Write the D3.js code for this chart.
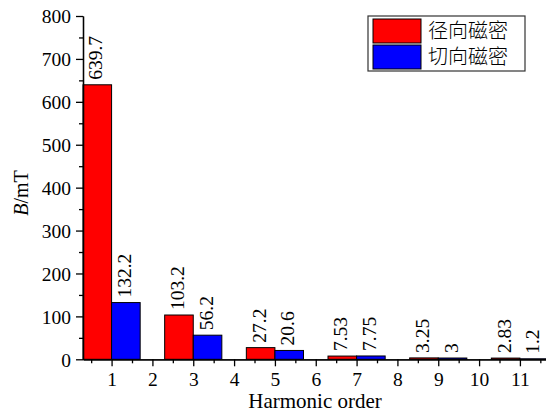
<!DOCTYPE html>
<html><head><meta charset="utf-8">
<script src="https://cdn.jsdelivr.net/npm/d3@7"></script>
<style>body{margin:0;background:#fff}svg{display:block}</style>
</head><body><svg id="c" width="546" height="414"></svg>
<script>
const orders = [1, 3, 5, 7, 9, 11];
const radial = [639.7, 103.2, 27.2, 7.53, 3.25, 2.83];
const radialLabels = ["639.7", "103.2", "27.2", "7.53", "3.25", "2.83"];
const tangential = [132.2, 56.2, 20.6, 7.75, 3, 1.2];
const tangentialLabels = ["132.2", "56.2", "20.6", "7.75", "3", "1.2"];
const xTicks = [1,2,3,4,5,6,7,8,9,10,11];
const yTicks = [0,100,200,300,400,500,600,700,800];
const seriesNames = ["径向磁密", "切向磁密"];
const colors = ["#ff0000", "#0000ff"];

const svg = d3.select("#c");
const x = d3.scaleLinear().domain([0.3, 11.7]).range([83, 548.5]);
const y = d3.scaleLinear().domain([0, 800]).range([359.3, 16]);
const bw = 0.7;
const serif = "'Liberation Serif','Times New Roman',serif";

const series = [
  {vals: radial, labels: radialLabels, off: -bw, color: colors[0]},
  {vals: tangential, labels: tangentialLabels, off: 0, color: colors[1]}
];
series.forEach(s => {
  const data = orders.map((o,i)=>({o, v:s.vals[i], l:s.labels[i]}));
  svg.append("g").selectAll("rect").data(data).enter().append("rect")
    .attr("x", d=>x(d.o + s.off))
    .attr("width", d=>x(d.o + s.off + bw) - x(d.o + s.off))
    .attr("y", d=>y(d.v))
    .attr("height", d=>y(0)-y(d.v))
    .attr("fill", s.color).attr("stroke", "#000").attr("stroke-width", 1);
  svg.append("g").selectAll("text").data(data).enter().append("text")
    .attr("transform", d=>`translate(${x(d.o + s.off + bw/2)+5},${y(d.v)-5}) rotate(-90)`)
    .attr("font-family", serif).attr("font-size", 19.5).attr("fill", "#000")
    .text(d=>d.l);
});

// axes
const xMinor = d3.range(0.5, 12, 1);
const gxm = svg.append("g").attr("transform", `translate(0,${y(0)})`)
  .call(d3.axisBottom(x).tickValues(xMinor).tickFormat("").tickSize(4).tickSizeOuter(0));
const gx = svg.append("g").attr("transform", `translate(0,${y(0)})`)
  .call(d3.axisBottom(x).tickValues(xTicks).tickFormat(d3.format("d")).tickSize(7).tickSizeOuter(0));
const yMinor = d3.range(50, 800, 100);
const gym = svg.append("g").attr("transform", `translate(${x(0.3)},0)`)
  .call(d3.axisLeft(y).tickValues(yMinor).tickFormat("").tickSize(4).tickSizeOuter(0));
const gy = svg.append("g").attr("transform", `translate(${x(0.3)},0)`)
  .call(d3.axisLeft(y).tickValues(yTicks).tickFormat(d3.format("d")).tickSize(7).tickSizeOuter(0).tickPadding(5));
[gxm, gx, gym, gy].forEach(g => {
  g.selectAll("path,line").attr("stroke", "#000").attr("stroke-width", 1.3);
  g.selectAll("text").attr("font-family", serif).attr("font-size", 19.5).attr("fill", "#000");
});
gx.selectAll("text").attr("y", 26.5).attr("dy", null);
gy.selectAll("text").attr("dy", "0.35em");

svg.append("text").attr("x", 315).attr("y", 408).attr("text-anchor", "middle")
  .attr("font-family", serif).attr("font-size", 21).text("Harmonic order");
const yt = svg.append("text").attr("transform", "translate(28,193) rotate(-90)")
  .attr("text-anchor", "middle").attr("font-family", serif).attr("font-size", 20);
yt.append("tspan").attr("font-style", "italic").text("B");
yt.append("tspan").text("/mT");

// legend
const lg = svg.append("g");
lg.append("rect").attr("x", 368).attr("y", 16).attr("width", 157).attr("height", 55)
  .attr("fill", "#fff").attr("stroke", "#333").attr("stroke-width", 1.2);
seriesNames.forEach((n,i) => {
  lg.append("rect").attr("x", 373).attr("y", 19 + i*26).attr("width", 48).attr("height", 24)
    .attr("fill", colors[i]).attr("stroke", "#000").attr("stroke-width", 1);
  lg.append("text").attr("x", 428).attr("y", 31 + i*26).attr("dy", "0.36em")
    .attr("font-family", "'Noto Sans CJK SC',sans-serif").attr("font-size", 20).attr("font-weight", 300)
    .text(n);
});
</script></body></html>
